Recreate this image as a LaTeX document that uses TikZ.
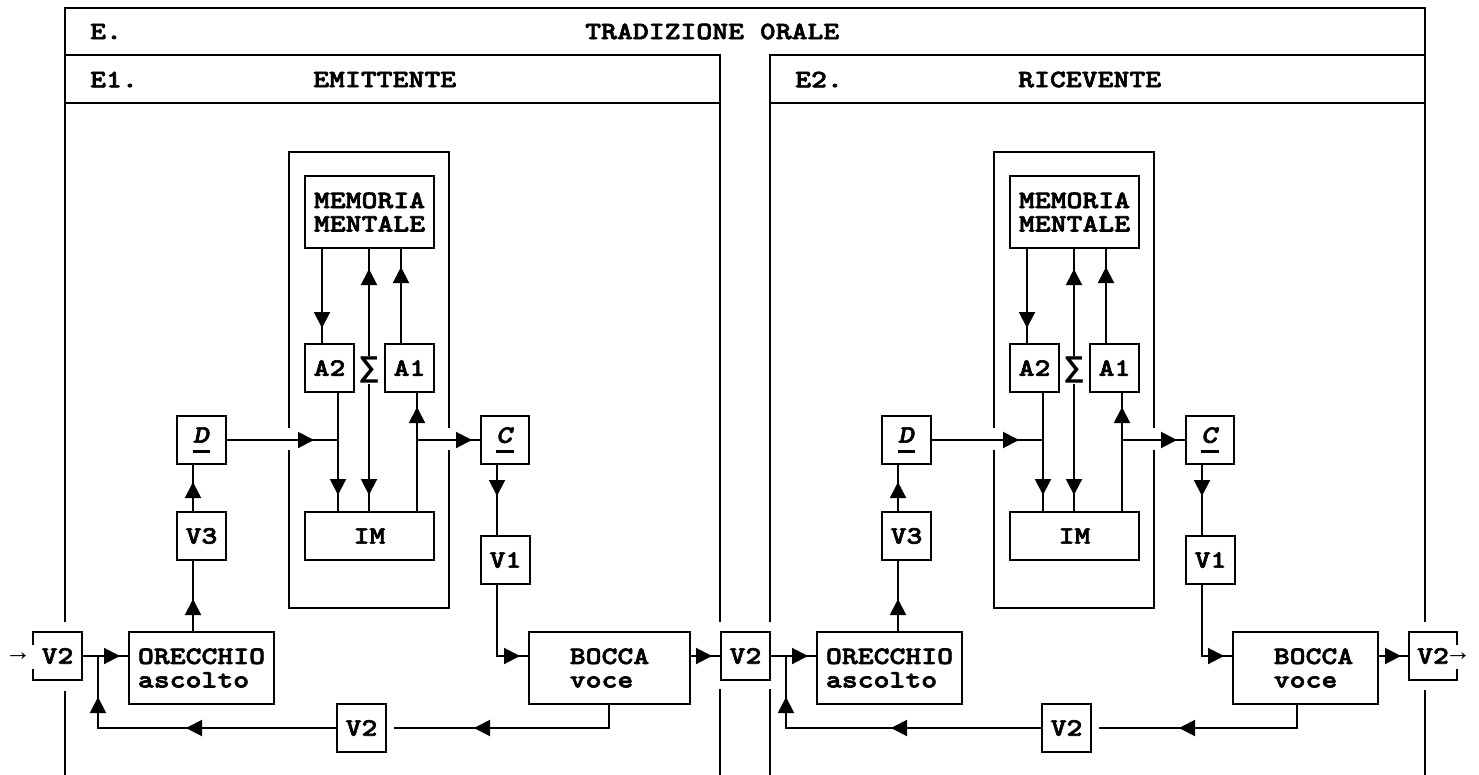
\documentclass[tikz,border=0pt]{standalone}
\usepackage{fontspec}
\setmainfont{Liberation Mono}
\newfontfamily\cour[Extension=.otf, UprightFont=lmmono10-regular, BoldFont=lmmonolt10-bold,
  ItalicFont=lmmono10-italic, BoldItalicFont=lmmonolt10-boldoblique, FakeStretch=1.21,
  BoldFeatures={FakeBold=2.5}, BoldItalicFeatures={FakeBold=2.5}]{lmmono10-regular}
\usetikzlibrary{arrows.meta,decorations.markings}
\newcommand\myul[1]{\setbox0\hbox{#1}\rlap{\rule[-10pt]{\wd0}{3pt}}\box0}
\newcommand\unitpart[5]{%
  % #1 input offset, #2 bocca x, #3 bocca width, #4 bocca connector x, #5 text pad
  \draw[ln] (289,428) -- (289,152) -- (449,152) -- (449,428)
            (289,450) -- (289,608) -- (449,608) -- (449,450);
  \node[bx, minimum width=129pt, minimum height=72pt] (mem) at (369.5,212) {MEMORIA\\MENTALE};
  \node[bx, minimum width=49pt, minimum height=48pt] (a2) at (329.5,368) {A2};
  \node[bx, minimum width=49pt, minimum height=48pt] (a1) at (409.5,368) {A1};
  \node[bx, minimum width=129pt, minimum height=48pt] (im) at (369.5,536) {IM};
  \node[bx, minimum width=48pt, minimum height=48pt] (c) at (505,440) {\myul{\textit{C}}};
  \node[bx, minimum width=49pt, minimum height=48pt] (d) at (201.5,440) {\myul{\textit{D}}};
  \node[bx, minimum width=49pt, minimum height=48pt] (v3) at (201.5,536) {V3};
  \node[bx, minimum width=49pt, minimum height=48pt] (v1) at (505.5,560) {V1};
  \node[bx, minimum width=145pt, minimum height=72pt, align=left] (ore) at ({201.5+(#1)},668) {ORECCHIO\\ascolto};
  \node[bx, minimum width=#3pt, minimum height=72pt, align=left] (boc) at (#2,668) {\hspace*{#5}BOCCA\\\hspace*{#5}voce};
  \node[bx, minimum width=49pt, minimum height=48pt] (v2b) at (361.5,728) {V2};
  \node[bx, minimum width=49pt, minimum height=48pt] (vin) at ({57.5+(#1)},656) {V2};
  \coordinate (jn) at ({98+(#1)},656);
  % connectors
  \draw[ln, mk=79pt] (322,0 |- mem.south) -- (322,0 |- a2.north);
  \draw[ln, mkr=20pt, mk=246pt] (369,0 |- mem.south) -- (369,0 |- im.north);
  \draw[ln, mk=76pt] (401,0 |- a1.north) -- (401,0 |- mem.south);
  \draw[ln, mk=102pt] (338,0 |- a2.south) -- (338,0 |- im.north);
  \draw[ln, mk=104pt] (417,0 |- im.north) -- (417,0 |- a1.south);
  \draw[ln, mk=87pt] (d.east) -- (338,0 |- d.east);
  \draw[ln, mk=-8pt] (417,0 |- c.west) -- (c.west);
  \draw[ln, mk=31pt] (497,0 |- c.south) -- (497,0 |- v1.north);
  \draw[ln, mk=-8pt] (497,0 |- v1.south) |- (boc.west |- vin.east);
  \draw[ln, mk=-80pt] (#4,0 |- boc.south) |- ([xshift=7pt]v2b.east);
  \draw[ln, mk=150pt, mk=-41pt] (v2b.west) -| (jn);
  \draw[ln, mk=-8pt] (vin.east) -- (ore.west |- vin.east);
  \draw[ln, mk=32pt] (193,0 |- ore.north) -- (193,0 |- v3.south);
  \draw[ln, mk=29pt] (193,0 |- v3.north) -- (193,0 |- d.south);
  \node[fill=white, inner sep=1pt, font=\fontsize{30}{30}\selectfont\bfseries] (sig) at (369,370) {∑};
}
\tikzset{
  x=1pt, y=-1pt,
  >={Triangle[length=16pt,width=16pt]},
  every node/.style={font=\cour\fontsize{25}{23.5}\selectfont\bfseries},
  bx/.style={draw, line width=2pt, inner sep=0pt, align=center},
  ln/.style={line width=2pt},
  mk/.style={postaction={decorate, decoration={markings, mark=at position #1 with {\arrow{>}}}}},
  mkr/.style={postaction={decorate, decoration={markings, mark=at position #1 with {\arrowreversed{>}}}}},
  hdr/.style={anchor=west, inner sep=0pt},
  arrtxt/.style={fill=white, inner xsep=0pt, inner ysep=0pt, minimum height=24pt, anchor=west,
     font=\fontsize{26.5}{23.5}\selectfont\mdseries},
}
\begin{document}
\begin{tikzpicture}
\useasboundingbox (0,0) rectangle (1479,774);
% outer frame E
\draw[ln] (65,622) -- (65,8) -- (1425,8) -- (1425,622) (65,691) -- (65,776) (1425,690) -- (1425,776);
% E1 frame
\draw[ln] (65,55) -- (720,55) -- (720,622) (720,689) -- (720,776) (65,103) -- (720,103);
% E2 frame
\draw[ln] (770,622) -- (770,55) -- (1425,55) (770,689) -- (770,776) (770,103) -- (1425,103);
% headers
\node[hdr] (tE) at (90,31.5) {E.};
\node[hdr] (tTit) at (585,31.5) {TRADIZIONE 0RALE};
\node[hdr] (tE1) at (90,79.5) {E1.};
\node[hdr] (tEm) at (313,79.5) {EMITTENTE};
\node[hdr] (tE2) at (795,79.5) {E2.};
\node[hdr] (tRi) at (1018,79.5) {RICEVENTE};
\begin{scope}[name prefix=l-]
\unitpart{0}{609.5}{161}{609}{0pt}
\end{scope}
\begin{scope}[xshift=705pt, name prefix=r-]
\unitpart{-17}{600.5}{145}{592}{16pt}
\end{scope}
\node[bx, minimum width=48pt, minimum height=48pt] (v2r) at (1433,656) {V2};
\draw[ln, mk=-8pt] (l-boc.east |- r-vin.west) -- (r-vin.west);
\draw[ln, mk=-7pt] (r-boc.east |- v2r.west) -- (v2r.west);
\node[arrtxt] (arL) at (10,657) {→\kern16pt};
\node[arrtxt] (arR) at (1450,657) {→};
\end{tikzpicture}
\end{document}
